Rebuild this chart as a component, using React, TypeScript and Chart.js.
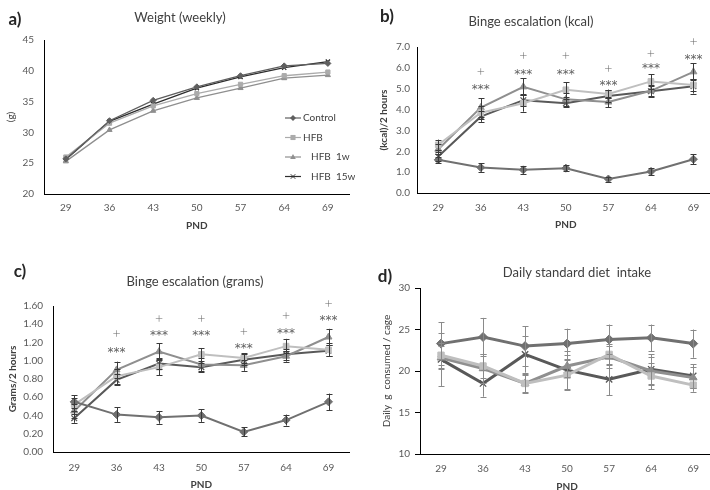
import React, { useEffect, useRef } from "react";
import { Chart, registerables } from "chart.js";

Chart.register(...registerables);
Chart.defaults.font.family = "Lato, 'Open Sans', sans-serif";

// ---------- data ----------
const pnd = ["29", "36", "43", "50", "57", "64", "69"];
const seriesNames = ["Control", "HFB", "HFB  1w", "HFB  15w"];

// a) Weight (weekly), g
const weightControl = [25.7, 31.9, 35.2, 37.4, 39.2, 40.8, 41.2];
const weightHFB = [26.0, 31.5, 34.3, 36.3, 37.8, 39.2, 39.8];
const weightHFB1w = [25.3, 30.4, 33.5, 35.6, 37.2, 38.8, 39.3];
const weightHFB15w = [25.6, 31.8, 34.6, 37.2, 39.0, 40.5, 41.5];

// b) Binge escalation, kcal / 2 hours
const kcalControl = [1.59, 1.22, 1.11, 1.19, 0.67, 1.03, 1.62];
const kcalHFB = [2.31, 3.85, 4.3, 4.95, 4.75, 5.35, 5.18];
const kcalHFB1w = [2.1, 4.1, 5.09, 4.49, 4.36, 4.9, 5.81];
const kcalHFB15w = [1.75, 3.66, 4.45, 4.3, 4.65, 4.88, 5.12];
const kcalErrControl = [0.15, 0.2, 0.18, 0.15, 0.12, 0.18, 0.25];
const kcalErrHFB = [0.25, 0.3, 0.4, 0.35, 0.2, 0.35, 0.3];
const kcalErrHFB1w = [0.25, 0.45, 0.4, 0.3, 0.25, 0.3, 0.4];
const kcalErrHFB15w = [0.2, 0.25, 0.3, 0.2, 0.3, 0.25, 0.35];
const kcalStarLevel = [null, 5.2, 5.88, 5.88, 5.36, 6.2, 6.63];
const kcalPlusLevel = [null, 5.85, 6.6, 6.6, 5.97, 6.73, 7.3];

// c) Binge escalation, grams / 2 hours
const gramsControl = [0.55, 0.41, 0.38, 0.4, 0.22, 0.35, 0.55];
const gramsHFB = [0.52, 0.83, 0.93, 1.07, 1.03, 1.16, 1.12];
const gramsHFB1w = [0.45, 0.9, 1.1, 0.96, 0.95, 1.05, 1.26];
const gramsHFB15w = [0.37, 0.79, 0.97, 0.93, 1.01, 1.07, 1.11];
const gramsErrControl = [0.07, 0.08, 0.07, 0.07, 0.05, 0.06, 0.09];
const gramsErrHFB = [0.07, 0.08, 0.09, 0.07, 0.05, 0.08, 0.07];
const gramsErrHFB1w = [0.08, 0.09, 0.09, 0.07, 0.06, 0.06, 0.09];
const gramsErrHFB15w = [0.05, 0.06, 0.06, 0.05, 0.06, 0.06, 0.06];
const gramsStarLevel = [null, 1.14, 1.33, 1.33, 1.18, 1.35, 1.49];
const gramsPlusLevel = [null, 1.3, 1.47, 1.47, 1.33, 1.5, 1.63];

// d) Daily standard diet intake, g / cage
const chowControl = [23.3, 24.1, 23.0, 23.3, 23.8, 24.0, 23.3];
const chowHFB = [21.9, 20.6, 18.5, 19.5, 22.0, 19.4, 18.3];
const chowHFB1w = [21.6, 20.3, 18.5, 20.6, 21.7, 20.0, 19.2];
const chowHFB15w = [21.4, 18.5, 22.0, 20.1, 19.0, 20.2, 19.4];
const chowErrControl = [2.6, 2.3, 2.4, 1.8, 1.8, 1.6, 1.7];
const chowErrHFB = [1.5, 1.5, 1.0, 1.8, 1.3, 1.6, 0.8];
const chowErrHFB1w = [1.4, 1.7, 1.1, 1.3, 1.3, 1.7, 1.3];
const chowErrHFB15w = [3.2, 1.6, 2.2, 2.3, 1.9, 1.8, 1.4];

const pointStyles = ["rectRot", "rect", "triangle", "crossRot"];

// ---------- helpers ----------
function drawMarker(ctx: CanvasRenderingContext2D, style: string, x: number, y: number, r: number, color: string) {
  ctx.save();
  ctx.fillStyle = color;
  ctx.strokeStyle = color;
  ctx.lineWidth = 1;
  ctx.beginPath();
  if (style === "rectRot") {
    ctx.moveTo(x, y - r);
    ctx.lineTo(x + r, y);
    ctx.lineTo(x, y + r);
    ctx.lineTo(x - r, y);
    ctx.closePath();
    ctx.fill();
  } else if (style === "rect") {
    ctx.rect(x - r * 0.85, y - r * 0.85, r * 1.7, r * 1.7);
    ctx.fill();
  } else if (style === "triangle") {
    ctx.moveTo(x, y - r);
    ctx.lineTo(x + r * 0.95, y + r * 0.65);
    ctx.lineTo(x - r * 0.95, y + r * 0.65);
    ctx.closePath();
    ctx.fill();
  } else {
    const k = r * 0.75;
    ctx.moveTo(x - k, y - k);
    ctx.lineTo(x + k, y + k);
    ctx.moveTo(x + k, y - k);
    ctx.lineTo(x - k, y + k);
    ctx.stroke();
  }
  ctx.restore();
}

type Panel = {
  origin: { x: number; y: number; w: number; h: number };
  area: { left: number; right: number; top: number; bottom: number };
  series: number[][];
  errors?: number[][];
  colors: string[];
  errColor: string;
  lineWidth: number;
  pointRadius: number;
  yMin: number;
  yMax: number;
  yStep: number;
  yDecimals: number;
  yTitle: string;
  yTitleBold: boolean;
  padLeft: number;
  yTitlePad: number;
  yTickPad: number;
  yTickMarks: boolean;
  xTickPad: number;
  xAxisH: number;
  letter: string;
  letterPos: [number, number];
  title: string;
  titlePos: [number, number];
  stars?: (number | null)[];
  plus?: (number | null)[];
  legend?: { x: number; y: number; gap: number; len: number; textDx: number[] };
};

function makePlugin(p: Panel) {
  const ox = p.origin.x;
  const oy = p.origin.y;
  return {
    id: "panelExtras",
    afterDatasetsDraw(chart: any) {
      const ctx: CanvasRenderingContext2D = chart.ctx;
      const ys = chart.scales.y;
      if (p.errors) {
        p.errors.forEach((errs, di) => {
          const meta = chart.getDatasetMeta(di);
          ctx.save();
          ctx.strokeStyle = p.errColor;
          ctx.lineWidth = 1;
          meta.data.forEach((pt: any, i: number) => {
            const v = p.series[di][i];
            const e = errs[i];
            const x = Math.round(pt.x) + 0.5;
            const y1 = ys.getPixelForValue(v + e);
            const y2 = ys.getPixelForValue(v - e);
            ctx.beginPath();
            ctx.moveTo(x, y1);
            ctx.lineTo(x, y2);
            ctx.moveTo(x - 3, Math.round(y1) + 0.5);
            ctx.lineTo(x + 3, Math.round(y1) + 0.5);
            ctx.moveTo(x - 3, Math.round(y2) + 0.5);
            ctx.lineTo(x + 3, Math.round(y2) + 0.5);
            ctx.stroke();
          });
          ctx.restore();
        });
      }
    },
    afterDraw(chart: any) {
      const ctx: CanvasRenderingContext2D = chart.ctx;
      const ys = chart.scales.y;
      const xs = chart.scales.x;
      ctx.save();
      ctx.fillStyle = "#262626";
      ctx.font = "bold 17px Lato, 'Open Sans', sans-serif";
      ctx.textAlign = "center";
      ctx.textBaseline = "middle";
      ctx.fillText(p.letter, p.letterPos[0] - ox, p.letterPos[1] - oy);
      ctx.fillStyle = "#404040";
      ctx.font = "13px Lato, 'Open Sans', sans-serif";
      ctx.fillText(p.title, p.titlePos[0] - ox, p.titlePos[1] - oy);
      if (p.stars) {
        ctx.fillStyle = "#606060";
        ctx.font = "12px 'DejaVu Sans', sans-serif";
        ctx.textBaseline = "alphabetic";
        p.stars.forEach((v, i) => {
          if (v === null) return;
          ctx.fillText("***", xs.getPixelForValue(i), ys.getPixelForValue(v) + 8);
        });
      }
      if (p.plus) {
        ctx.fillStyle = "#6a6a6a";
        ctx.font = "300 14px Lato, 'Open Sans', sans-serif";
        ctx.textBaseline = "alphabetic";
        p.plus.forEach((v, i) => {
          if (v === null) return;
          ctx.fillText("+", xs.getPixelForValue(i), ys.getPixelForValue(v) + 5);
        });
      }
      if (p.legend) {
        const L = p.legend;
        seriesNames.forEach((name, i) => {
          const y = L.y - oy + i * L.gap;
          const x = L.x - ox;
          ctx.strokeStyle = p.colors[i];
          ctx.lineWidth = 1.2;
          ctx.beginPath();
          ctx.moveTo(x, y);
          ctx.lineTo(x + L.len, y);
          ctx.stroke();
          drawMarker(ctx, pointStyles[i], x + L.len / 2, y, 3, p.colors[i]);
          ctx.fillStyle = "#404040";
          ctx.font = "10px Lato, 'Open Sans', sans-serif";
          ctx.textAlign = "left";
          ctx.textBaseline = "middle";
          ctx.fillText(name, x + L.textDx[i], y);
        });
      }
      ctx.restore();
    },
  };
}

function buildConfig(p: Panel): any {
  const yAxisW = p.area.left - p.padLeft;
  const tickColor = "#595959";
  return {
    type: "line",
    data: {
      labels: pnd,
      datasets: p.series.map((d, i) => ({
        label: seriesNames[i],
        data: d,
        borderColor: p.colors[i],
        backgroundColor: p.colors[i],
        borderWidth: p.lineWidth,
        pointStyle: pointStyles[i],
        pointRadius: p.pointRadius,
        pointBorderWidth: i === 3 ? 1.3 : 1,
        pointBorderColor: p.colors[i],
        pointBackgroundColor: p.colors[i],
        tension: 0,
        fill: false,
      })),
    },
    options: {
      responsive: false,
      animation: false,
      devicePixelRatio: 1,
      events: [],
      layout: {
        padding: {
          left: p.padLeft - p.origin.x,
          top: p.area.top - p.origin.y,
          right: p.origin.x + p.origin.w - p.area.right,
          bottom: p.origin.y + p.origin.h - p.area.bottom - p.xAxisH,
        },
      },
      plugins: {
        legend: { display: false },
        tooltip: { enabled: false },
        title: { display: false },
      },
      scales: {
        x: {
          type: "category",
          offset: true,
          grid: { display: false, drawTicks: false },
          border: { display: true, color: "#000000", width: 1 },
          ticks: {
            padding: p.xTickPad,
            color: tickColor,
            font: { size: 10 },
            maxRotation: 0,
            autoSkip: false,
          },
          title: {
            display: true,
            text: "PND",
            color: "#404040",
            font: { size: 10, weight: "bold" },
            padding: 0,
          },
          afterFit: (s: any) => {
            s.height = p.xAxisH;
          },
        },
        y: {
          min: p.yMin,
          max: p.yMax,
          grid: p.yTickMarks
            ? { display: true, drawOnChartArea: false, drawTicks: true, tickLength: 5, color: "#000000" }
            : { display: false, drawTicks: false },
          border: { display: true, color: "#000000", width: 1 },
          ticks: {
            stepSize: p.yStep,
            padding: p.yTickPad,
            color: tickColor,
            font: { size: 10 },
            callback: (v: any) => Number(v).toFixed(p.yDecimals),
          },
          title: {
            display: true,
            text: p.yTitle,
            color: "#404040",
            font: { size: 10, weight: p.yTitleBold ? "bold" : "normal" },
            padding: { top: p.yTitlePad, bottom: 0 },
          },
          afterFit: (s: any) => {
            s.width = yAxisW;
          },
        },
      },
    },
    plugins: [makePlugin(p)],
  };
}

const colorsThin = ["#5f5f5f", "#ababab", "#8f8f8f", "#2e2e2e"];
const colorsMid = ["#707070", "#bfbfbf", "#8f8f8f", "#595959"];

const panels: Panel[] = [
  {
    origin: { x: 0, y: 0, w: 355, h: 245 },
    area: { left: 44, right: 355, top: 40, bottom: 194 },
    series: [weightControl, weightHFB, weightHFB1w, weightHFB15w],
    colors: colorsThin,
    errColor: "#555555",
    lineWidth: 1.3,
    pointRadius: 3,
    yMin: 20,
    yMax: 45,
    yStep: 5,
    yDecimals: 0,
    yTitle: "(g)",
    yTitleBold: false,
    padLeft: 0,
    yTitlePad: 5,
    yTickPad: 10,
    yTickMarks: false,
    xTickPad: 8,
    xAxisH: 38,
    letter: "a)",
    letterPos: [15, 20],
    title: "Weight (weekly)",
    titlePos: [180, 18],
    legend: { x: 285, y: 118, gap: 19.5, len: 16, textDx: [18, 18, 26, 26] },
  },
  {
    origin: { x: 355, y: 0, w: 365, h: 245 },
    area: { left: 417, right: 717, top: 47, bottom: 193 },
    series: [kcalControl, kcalHFB, kcalHFB1w, kcalHFB15w],
    errors: [kcalErrControl, kcalErrHFB, kcalErrHFB1w, kcalErrHFB15w],
    colors: colorsMid,
    errColor: "#3a3a3a",
    lineWidth: 2,
    pointRadius: 4,
    yMin: 0,
    yMax: 7,
    yStep: 1,
    yDecimals: 1,
    yTitle: "(kcal)/2 hours",
    yTitleBold: true,
    padLeft: 372,
    yTitlePad: 6,
    yTickPad: 7,
    yTickMarks: false,
    xTickPad: 9,
    xAxisH: 38,
    letter: "b)",
    letterPos: [387, 17],
    title: "Binge escalation (kcal)",
    titlePos: [531, 22],
    stars: kcalStarLevel,
    plus: kcalPlusLevel,
  },
  {
    origin: { x: 0, y: 245, w: 355, h: 250 },
    area: { left: 53, right: 351, top: 306, bottom: 452 },
    series: [gramsControl, gramsHFB, gramsHFB1w, gramsHFB15w],
    errors: [gramsErrControl, gramsErrHFB, gramsErrHFB1w, gramsErrHFB15w],
    colors: colorsMid,
    errColor: "#3a3a3a",
    lineWidth: 2,
    pointRadius: 4,
    yMin: 0,
    yMax: 1.6,
    yStep: 0.2,
    yDecimals: 2,
    yTitle: "Grams/2 hours",
    yTitleBold: true,
    padLeft: 0,
    yTitlePad: 7,
    yTickPad: 10,
    yTickMarks: false,
    xTickPad: 10,
    xAxisH: 39,
    letter: "c)",
    letterPos: [20, 272],
    title: "Binge escalation (grams)",
    titlePos: [195, 282],
    stars: gramsStarLevel,
    plus: gramsPlusLevel,
  },
  {
    origin: { x: 355, y: 245, w: 365, h: 250 },
    area: { left: 420, right: 717, top: 288, bottom: 454 },
    series: [chowControl, chowHFB, chowHFB1w, chowHFB15w],
    errors: [chowErrControl, chowErrHFB, chowErrHFB1w, chowErrHFB15w],
    colors: colorsMid,
    errColor: "#8a8a8a",
    lineWidth: 3,
    pointRadius: 4.5,
    yMin: 10,
    yMax: 30,
    yStep: 5,
    yDecimals: 0,
    yTitle: "Daily  g  consumed / cage",
    yTitleBold: false,
    padLeft: 372,
    yTitlePad: 9,
    yTickPad: 5,
    yTickMarks: true,
    xTickPad: 9,
    xAxisH: 39,
    letter: "d)",
    letterPos: [385, 277],
    title: "Daily standard diet  intake",
    titlePos: [577, 273],
  },
];

function PanelChart({ p }: { p: Panel }) {
  const ref = useRef<HTMLCanvasElement | null>(null);
  useEffect(() => {
    if (!ref.current) return;
    const chart = new Chart(ref.current, buildConfig(p));
    return () => chart.destroy();
  }, [p]);
  return (
    <canvas
      ref={ref}
      width={p.origin.w}
      height={p.origin.h}
      style={{
        position: "absolute",
        left: p.origin.x,
        top: p.origin.y,
        width: p.origin.w,
        height: p.origin.h,
      }}
    />
  );
}

export default function App() {
  return (
    <div
      style={{
        position: "absolute",
        left: 0,
        top: 0,
        width: 710,
        height: 490,
        overflow: "hidden",
        background: "#ffffff",
      }}
    >
      {panels.map((p, i) => (
        <PanelChart key={i} p={p} />
      ))}
    </div>
  );
}
